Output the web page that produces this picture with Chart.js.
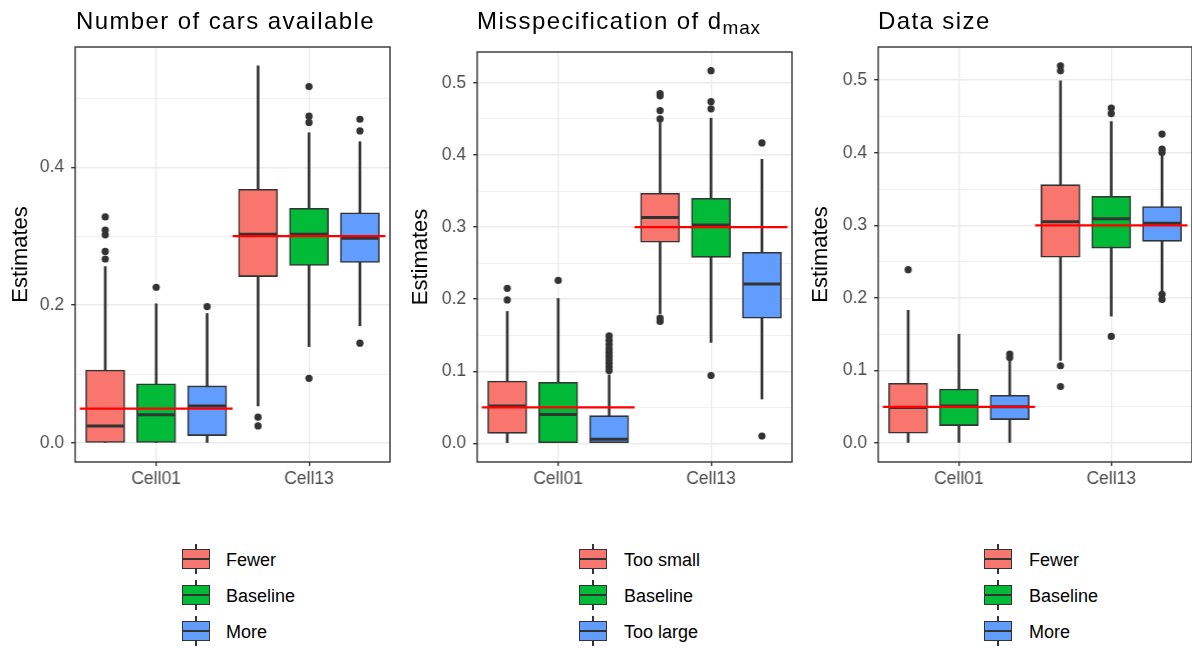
<!DOCTYPE html>
<html>
<head>
<meta charset="utf-8">
<script src="https://cdn.jsdelivr.net/npm/chart.js@4.4.0/dist/chart.umd.min.js"></script>
<style>
  body { margin: 0; background: #fff; font-family: "Liberation Sans", Arial, sans-serif; }
  #wrap { position: relative; width: 1192px; height: 648px; overflow: hidden; }
  .panel { position: absolute; top: 0; }
  .title { position: absolute; top: 9px; font-size: 24px; line-height: 24px; letter-spacing: 1.4px; color: #000; white-space: nowrap; }
  .title sub { font-size: 19px; letter-spacing: 0.8px; vertical-align: -5px; line-height: 0; }
  .key { position: absolute; width: 28px; height: 20px; }
  .key .wh { position: absolute; left: 13px; top: -5px; width: 2px; height: 30px; background: #333; }
  .key .bx { position: absolute; left: 0; top: 0; width: 28px; height: 20px; box-sizing: border-box; border: 1.6px solid #333; }
  .key .md { position: absolute; left: 0; top: 9px; width: 28px; height: 2px; background: #333; }
  .lab { position: absolute; font-size: 18px; line-height: 20px; color: #000; white-space: nowrap; }
</style>
</head>
<body>
<div id="wrap">
  <canvas id="c1" class="panel" style="left:0px" width="395" height="500"></canvas>
  <canvas id="c2" class="panel" style="left:400px" width="395" height="500"></canvas>
  <canvas id="c3" class="panel" style="left:800px" width="392" height="500"></canvas>
  <div class="title" style="left:76px">Number of cars available</div>
  <div class="title" style="left:477px">Misspecification of d<sub>max</sub></div>
  <div class="title" style="left:878px">Data size</div>
</div>
<script>
const cells = ["Cell01", "Cell13"];
const colors = ["#F8766D", "#00BA38", "#619CFF"];
const truth = [0.05, 0.3];

// panel 1: number of cars
const carsGroups = ["Fewer", "Baseline", "More"];
const carsLow  = [[0.000, 0.054], [0.000, 0.140], [0.000, 0.170]];
const carsQ1   = [[0.000, 0.2415], [0.000, 0.2575], [0.011, 0.262]];
const carsMed  = [[0.025, 0.303], [0.041, 0.303], [0.054, 0.297]];
const carsQ3   = [[0.106, 0.368], [0.086, 0.3405], [0.083, 0.334]];
const carsHigh = [[0.256, 0.547], [0.202, 0.450], [0.188, 0.437]];
const carsOut  = [
  [[0.328, 0.309, 0.302, 0.278, 0.267], [0.0377, 0.025]],
  [[0.226], [0.517, 0.474, 0.465, 0.094]],
  [[0.198], [0.4696, 0.4526, 0.145]]
];
const carsTicks = [0, 0.2, 0.4];
const carsMinor = [0.1, 0.3, 0.5];

// panel 2: misspecification of d_max
const dmaxGroups = ["Too small", "Baseline", "Too large"];
const dmaxLow  = [[0.000, 0.180], [0.000, 0.140], [0.000, 0.0615]];
const dmaxQ1   = [[0.0139, 0.279], [0.000, 0.258], [0.000, 0.1736]];
const dmaxMed  = [[0.0518, 0.3134], [0.040, 0.303], [0.0056, 0.221]];
const dmaxQ3   = [[0.0865, 0.347], [0.0847, 0.340], [0.0384, 0.265]];
const dmaxHigh = [[0.183, 0.445], [0.201, 0.451], [0.095, 0.394]];
const dmaxOut  = [
  [[0.215, 0.199], [0.485, 0.482, 0.4616, 0.45, 0.1736, 0.169]],
  [[0.226], [0.517, 0.474, 0.464, 0.094]],
  [[0.149, 0.143, 0.137, 0.131, 0.126, 0.121, 0.116, 0.111, 0.106, 0.101], [0.4167, 0.0101]]
];
const dmaxTicks = [0, 0.1, 0.2, 0.3, 0.4, 0.5];
const dmaxMinor = [0.05, 0.15, 0.25, 0.35, 0.45];

// panel 3: data size
const sizeGroups = ["Fewer", "Baseline", "More"];
const sizeLow  = [[0.000, 0.114], [0.000, 0.175], [0.000, 0.208]];
const sizeQ1   = [[0.0137, 0.256], [0.0242, 0.2687], [0.0324, 0.278]];
const sizeMed  = [[0.049, 0.305], [0.051, 0.309], [0.050, 0.303]];
const sizeQ3   = [[0.0824, 0.356], [0.0746, 0.340], [0.066, 0.326]];
const sizeHigh = [[0.183, 0.499], [0.150, 0.443], [0.114, 0.396]];
const sizeOut  = [
  [[0.239], [0.5197, 0.5128, 0.1066, 0.078]],
  [[], [0.4615, 0.454, 0.147]],
  [[0.1227, 0.118], [0.4258, 0.405, 0.4005, 0.205, 0.198]]
];
const sizeTicks = [0, 0.1, 0.2, 0.3, 0.4, 0.5];
const sizeMinor = [0.05, 0.15, 0.25, 0.35, 0.45];

const dodge = [-1 / 3, 0, 1 / 3];
const ink = "#333333";

const frame = {
  id: "frame",
  afterDraw(chart) {
    const a = chart.chartArea, ctx = chart.ctx;
    ctx.save();
    ctx.strokeStyle = ink;
    ctx.lineWidth = 1.4;
    ctx.strokeRect(a.left, a.top, a.right - a.left, a.bottom - a.top);
    ctx.restore();
  }
};

function makePanel(id, groups, low, q1, med, q3, high, out, ticks, minor, opts) {
  const datasets = [];
  groups.forEach((g, gi) => {
    const xs = cells.map((c, ci) => ci + 1 + dodge[gi]);
    datasets.push({
      type: "bar", label: g + " whisker", order: 5, grouped: false,
      data: xs.map((x, ci) => ({ x: x, y: [low[gi][ci], high[gi][ci]] })),
      backgroundColor: ink, borderWidth: 0, barThickness: 2
    });
    datasets.push({
      type: "bar", label: g, order: 4, grouped: false,
      data: xs.map((x, ci) => ({ x: x, y: [q1[gi][ci], q3[gi][ci]] })),
      backgroundColor: colors[gi], borderColor: ink, borderWidth: 1.6,
      borderSkipped: false, barThickness: 39
    });
    datasets.push({
      type: "scatter", label: g + " median", order: 3,
      data: xs.map((x, ci) => ({ x: x, y: med[gi][ci] })),
      pointStyle: "line", pointRadius: 18.5, borderColor: ink, borderWidth: 3
    });
    const pts = [];
    xs.forEach((x, ci) => out[gi][ci].forEach(v => pts.push({ x: x, y: v })));
    datasets.push({
      type: "scatter", label: g + " outliers", order: 1,
      data: pts, pointRadius: 3.6, backgroundColor: ink, borderColor: ink, borderWidth: 0
    });
  });
  const line = [];
  truth.forEach((t, ci) => {
    if (ci > 0) line.push({ x: ci + 0.5, y: null });
    line.push({ x: ci + 0.5, y: t }, { x: ci + 1.5, y: t });
  });
  datasets.push({
    type: "line", label: "truth", order: 0, data: line,
    borderColor: "#ff0000", borderWidth: 2.2, pointRadius: 0, spanGaps: false
  });

  // y range like ggplot: data range plus 5%
  const all = [].concat(low.flat(), high.flat(), out.flat(2));
  const lo = Math.min(...all), hi = Math.max(...all);
  const pad = (hi - lo) * 0.05;

  const yTicks = ticks.map(v => ({ value: v })).concat(minor.map(v => ({ value: v, minor: true })))
    .filter(t => t.value <= hi + pad);
  const isMinor = c => c.tick && c.tick.minor;

  const chart = new Chart(document.getElementById(id), {
    type: "bar",
    data: { datasets: datasets },
    options: {
      responsive: false, maintainAspectRatio: false, animation: false, events: [],
      layout: { padding: { top: opts.top, right: 0, left: 0, bottom: 0 } },
      plugins: { legend: { display: false }, tooltip: { enabled: false } },
      scales: {
        x: {
          type: "linear", min: 0.47, max: 2.53, offset: false,
          afterBuildTicks: ax => { ax.ticks = cells.map((c, i) => ({ value: i + 1 })); },
          afterFit: ax => { ax.height = 38; },
          ticks: {
            callback: v => cells[Math.round(v) - 1], color: "#4d4d4d", padding: 3,
            font: { family: "Liberation Sans, Arial, sans-serif", size: 17.5 }
          },
          grid: { offset: false, color: "#ebebeb", lineWidth: 1.4, tickLength: 4, tickColor: ink, tickWidth: 1.4 },
          border: { display: false }
        },
        y: {
          type: "linear", min: lo - pad, max: hi + pad,
          afterBuildTicks: ax => { ax.ticks = yTicks; },
          afterFit: ax => { ax.width = opts.axisWidth; },
          ticks: {
            callback: (v, i, t) => (t[i].minor ? "" : v.toFixed(1)), color: "#4d4d4d", padding: 7,
            font: { family: "Liberation Sans, Arial, sans-serif", size: 17.5 }
          },
          grid: {
            color: "#ebebeb", lineWidth: c => (isMinor(c) ? 0.7 : 1.4), tickLength: 4,
            tickColor: c => (isMinor(c) ? "rgba(0,0,0,0)" : ink), tickWidth: 1.4
          },
          border: { display: false },
          title: {
            display: true, text: "Estimates", color: "#000", padding: { top: 8, bottom: 0 },
            font: { family: "Liberation Sans, Arial, sans-serif", size: 22 }
          }
        }
      }
    },
    plugins: [frame]
  });

  // the x axis reserves room for its last label; widen the canvas so the panel edge lands where wanted
  for (let k = 0; k < 3; k++) {
    const extra = opts.plotRight - chart.chartArea.right;
    if (Math.abs(extra) < 0.5) break;
    chart.resize(chart.width + extra, 500);
  }

  // legend below the panel
  const wrap = document.getElementById("wrap");
  groups.forEach((g, gi) => {
    const top = 549 + gi * 36;
    const key = document.createElement("div");
    key.className = "key";
    key.style.left = opts.keyX + "px";
    key.style.top = top + "px";
    key.innerHTML = '<div class="wh"></div><div class="bx" style="background:' + colors[gi] + '"></div><div class="md"></div>';
    wrap.appendChild(key);
    const lab = document.createElement("div");
    lab.className = "lab";
    lab.style.left = opts.labX + "px";
    lab.style.top = (top + 1) + "px";
    lab.textContent = g;
    wrap.appendChild(lab);
  });
}

makePanel("c1", carsGroups, carsLow, carsQ1, carsMed, carsQ3, carsHigh, carsOut, carsTicks, carsMinor,
  { top: 47, plotRight: 389, axisWidth: 75, keyX: 182, labX: 226 });
makePanel("c2", dmaxGroups, dmaxLow, dmaxQ1, dmaxMed, dmaxQ3, dmaxHigh, dmaxOut, dmaxTicks, dmaxMinor,
  { top: 52, plotRight: 391, axisWidth: 77, keyX: 579, labX: 624 });
makePanel("c3", sizeGroups, sizeLow, sizeQ1, sizeMed, sizeQ3, sizeHigh, sizeOut, sizeTicks, sizeMinor,
  { top: 47, plotRight: 391, axisWidth: 78, keyX: 984, labX: 1029 });
</script>
</body>
</html>
